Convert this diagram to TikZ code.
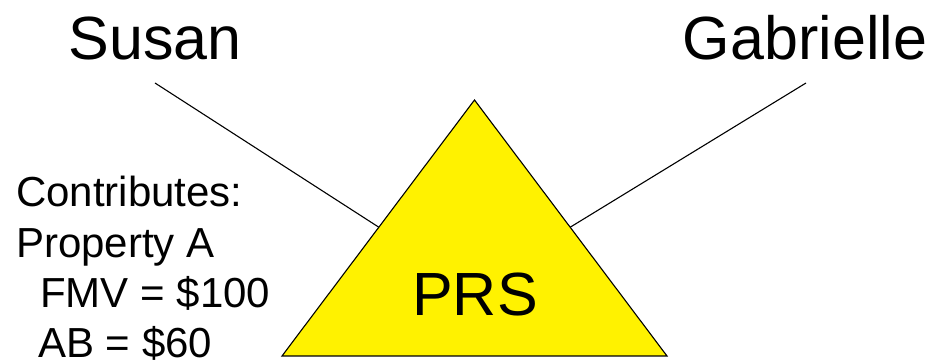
\documentclass[tikz,border=0pt]{standalone}
\usepackage{fontspec}
\setmainfont{Liberation Sans}
\usetikzlibrary{calc}
\begin{document}
\begin{tikzpicture}[x=1pt,y=-1pt,
  bigname/.style={font=\fontsize{61}{70}\selectfont, inner sep=0pt, anchor=base},
  leftlbl/.style={font=\fontsize{42}{50}\selectfont, inner sep=0pt, anchor=base west},
  link/.style={draw=black, line width=1.1pt},
  prsshape/.style={draw=black, fill=yellow, line width=1.1pt, line join=miter}]
\useasboundingbox (0,0) rectangle (932,363);
% names
\node[bigname] (susan) at (155,60) {Susan};
\node[bigname] (gabrielle) at (805,60) {Gabrielle};
% triangle
\coordinate (apex) at (474.5,100);
\coordinate (bl) at (282,356);
\coordinate (br) at (667,356);
\coordinate (susanfoot) at (155,83);
\coordinate (gabfoot) at (806,83);
\coordinate (tleft) at ($(apex)!0.497!(bl)$);
\coordinate (tright) at ($(apex)!0.497!(br)$);
\draw[link] (susanfoot) -- (tleft);
\draw[link] (gabfoot) -- (tright);
\draw[prsshape] (apex) -- (bl) -- (br) -- cycle;
\node[bigname] (prs) at (475,316) {PRS};
% left text
\node[leftlbl] (l1) at (16,207) {Contributes:};
\node[leftlbl] (l2) at (16,258) {Property A};
\node[leftlbl] (l3) at (40,308) {FMV = \$100};
\node[leftlbl] (l4) at (38,358) {AB = \$60};
\end{tikzpicture}
\end{document}
